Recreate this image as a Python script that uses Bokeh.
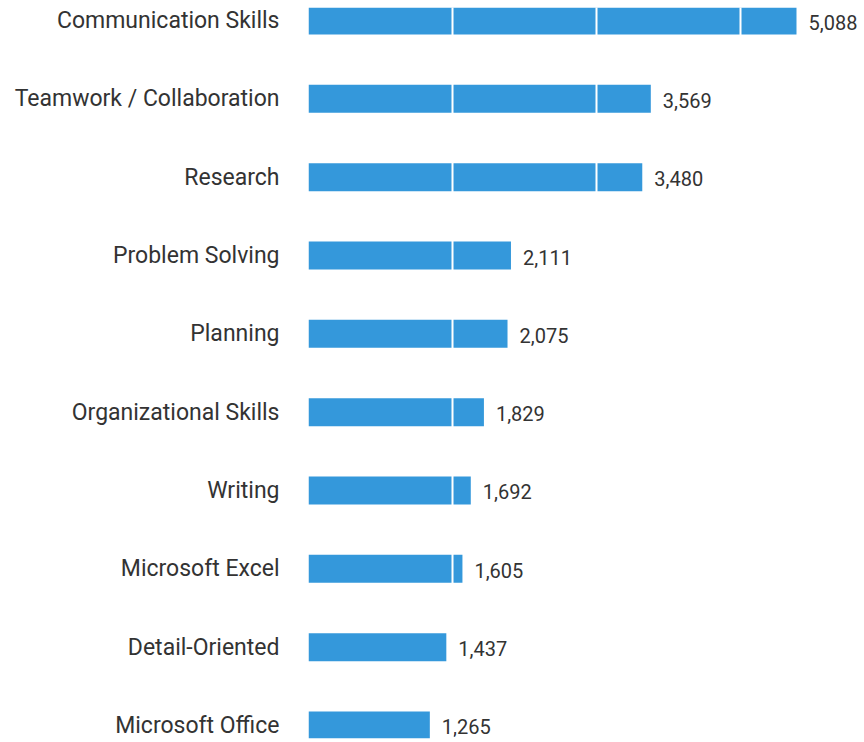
from bokeh.plotting import figure
from bokeh.models import ColumnDataSource, FactorRange, FixedTicker
from bokeh.core.properties import value
from bokeh.embed import file_html
from bokeh.resources import INLINE

skills = ["Communication Skills", "Teamwork / Collaboration", "Research", "Problem Solving",
          "Planning", "Organizational Skills", "Writing", "Microsoft Excel",
          "Detail-Oriented", "Microsoft Office"]
counts = [5088, 3569, 3480, 2111, 2075, 1829, 1692, 1605, 1437, 1265]
labels = [f"{c:,}" for c in counts]

src = ColumnDataSource(dict(skill=skills, count=counts, label=labels))

factors = list(reversed(skills))
p = figure(width=864, height=742, output_backend="svg", toolbar_location=None,
           y_range=FactorRange(factors=factors, range_padding=-0.0668),
           x_range=(0, 5797), min_border_left=308, min_border_right=0,
           min_border_top=7, min_border_bottom=4)
p.outline_line_color = None
p.background_fill_color = "white"
p.border_fill_color = "white"

p.hbar(y="skill", right="count", left=0, height=0.357, source=src,
       fill_color="#3498db", line_color=None)

p.text(x="count", y="skill", text="label", source=src, x_offset=12, y_offset=1.5,
       text_align="left", text_baseline="middle", text_font=value("Roboto"),
       text_font_size="20px", text_color="#333333")

p.xaxis.visible = False
yax = p.yaxis[0]
yax.axis_line_color = None
yax.major_tick_line_color = None
yax.minor_tick_line_color = None
yax.major_tick_out = 0
yax.major_tick_in = 0
yax.major_label_standoff = 29
yax.major_label_text_font = "Roboto"
yax.major_label_text_font_size = "23px"
yax.major_label_text_color = "#333333"

p.ygrid.visible = False
g = p.xgrid[0]
g.ticker = FixedTicker(ticks=[1500, 3000, 4500])
g.grid_line_color = "white"
g.grid_line_width = 2
g.level = "overlay"

open("out.html", "w").write(file_html(p, INLINE))
